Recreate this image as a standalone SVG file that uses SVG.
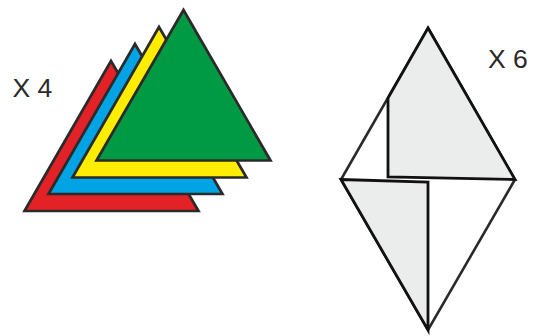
<svg xmlns="http://www.w3.org/2000/svg" width="534" height="336" viewBox="0 0 534 336">
<style>
.t{stroke:#2b2a29;stroke-width:2.7;stroke-linejoin:miter;stroke-miterlimit:10}
.o{fill:#fff;stroke:#2b2a29;stroke-width:2.6;stroke-linejoin:miter}
.g{fill:#ebeded;stroke:#111;stroke-width:2.8;stroke-linejoin:miter}
text{font-family:"Liberation Sans",Arial,sans-serif;font-size:26.500px;fill:#2b2a29}
</style>
<rect width="534" height="336" fill="#fff"/>
<g id="stack">
<polygon id="red" class="t" fill="#e32227" points="111,61 24.500,211 198.500,211"/>
<polygon id="blue" class="t" fill="#00a3e3" points="135,44 48.500,194 222.500,194"/>
<polygon id="yellow" class="t" fill="#ffed00" points="159,27 72.500,177.500 246.500,177.500"/>
<polygon id="green" class="t" fill="#009a44" points="183.500,10 96.500,160.500 270.500,160.500"/>
</g>
<text id="x4" x="12.500" y="97">X 4</text>
<g id="kite">
<polygon class="o" points="428,28 515,179.500 428,330 341,179.500"/>
<polygon class="g" points="428,28 515,179.500 388,177 388,98"/>
<polygon class="g" points="341,179.500 428,182 428,330"/>
</g>
<text id="x6" x="488" y="68">X 6</text>
</svg>
